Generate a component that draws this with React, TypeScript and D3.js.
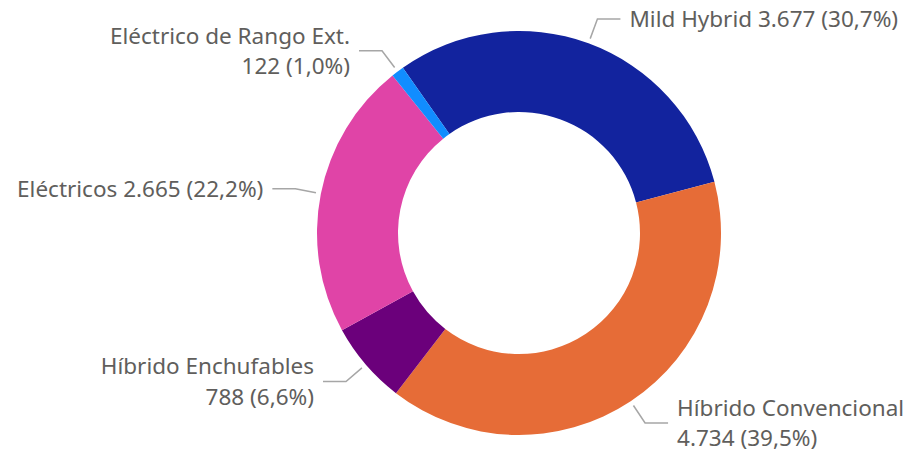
import React, { useEffect, useRef } from 'react';
import * as d3 from 'd3';

// Data
const categories = ['Mild Hybrid', 'Híbrido Convencional', 'Híbrido Enchufables', 'Eléctricos', 'Eléctrico de Rango Ext.'];
const values = [3677, 4734, 788, 2665, 122];
const colors = ['#12239E', '#E66C37', '#6B007B', '#E044A7', '#118DFF'];

const W = 915;
const H = 452;
const FONT = '"Segoe UI", "Noto Sans", sans-serif';
const FONT_SIZE = 22.5;

const esLocale = d3.formatLocale({ decimal: ',', thousands: '.', grouping: [3], currency: ['', '€'] });
const fmtNum = esLocale.format(',d');
const fmtPct = esLocale.format('.1f');

const App = () => {
  const svgRef = useRef<SVGSVGElement>(null);

  useEffect(() => {
    const svg = d3.select(svgRef.current);
    svg.selectAll('*').remove();

    const cx = 519;
    const cy = 233;
    const outerR = 202;
    const innerR = 121;
    const total = d3.sum(values);

    const data = categories.map((c, i) => ({ name: c, value: values[i], color: colors[i] }));

    const start = (-35.1 * Math.PI) / 180;
    const pie = d3.pie<any>()
      .sort(null)
      .value(d => d.value)
      .startAngle(start)
      .endAngle(start + 2 * Math.PI);

    const arc = d3.arc<any>().innerRadius(innerR).outerRadius(outerR);

    const g = svg.append('g').attr('transform', `translate(${cx},${cy})`);
    const arcs = pie(data);

    g.selectAll('path')
      .data(arcs)
      .join('path')
      .attr('d', arc)
      .attr('fill', d => d.data.color);

    // measure text width for wrapping
    const ctx = document.createElement('canvas').getContext('2d')!;
    ctx.font = `${FONT_SIZE}px ${FONT}`;

    const lineGap = 30.5;
    arcs.forEach(a => {
      const mid = (a.startAngle + a.endAngle) / 2;
      const sx = Math.sin(mid), sy = -Math.cos(mid);
      const p0 = [sx * (outerR + 5), sy * (outerR + 5)];
      const p1 = [sx * (outerR + 26), sy * (outerR + 26)];
      const right = sx > 0;
      const p2 = [p1[0] + (right ? 23 : -23), p1[1]];

      g.append('polyline')
        .attr('points', [p0, p1, p2].map(p => p.join(',')).join(' '))
        .attr('fill', 'none')
        .attr('stroke', '#A6A6A6')
        .attr('stroke-width', 1.5);

      const name = a.data.name;
      const tail = `${fmtNum(a.data.value)} (${fmtPct((a.data.value / total) * 100)}%)`;
      const full = `${name} ${tail}`;
      const tx = p2[0] + (right ? 9 : -9);
      const avail = right ? W - (cx + tx) - 2 : cx + tx - 2;
      const lines = ctx.measureText(full).width > avail ? [name, tail] : [full];

      const text = g.append('text')
        .attr('x', tx)
        .attr('text-anchor', right ? 'start' : 'end')
        .attr('font-family', FONT)
        .attr('font-size', FONT_SIZE)
        .attr('fill', '#605E5C');
      const y0 = p1[1] + 8 - ((lines.length - 1) * lineGap) / 2;
      lines.forEach((l, i) => {
        text.append('tspan')
          .attr('x', tx)
          .attr('y', y0 + i * lineGap)
          .text(l);
      });
    });
  }, []);

  return (
    <svg
      ref={svgRef}
      width={W}
      height={H}
      style={{ position: 'absolute', left: 0, top: 0, background: '#fff' }}
    />
  );
};

export default App;
